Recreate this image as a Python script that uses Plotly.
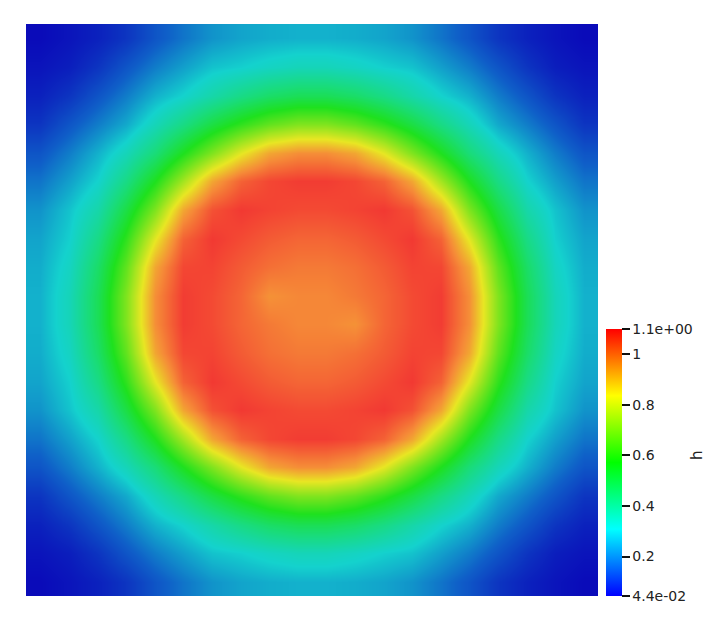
import plotly.graph_objects as go

h_rows = [
    [0.045, 0.06, 0.08, 0.11, 0.16, 0.20, 0.236, 0.255, 0.265, 0.27, 0.27, 0.265, 0.255, 0.236, 0.20, 0.16, 0.11, 0.08, 0.06, 0.045],
    [0.06, 0.075, 0.11, 0.16, 0.21, 0.25, 0.29, 0.305, 0.325, 0.34, 0.34, 0.325, 0.305, 0.29, 0.25, 0.21, 0.16, 0.11, 0.075, 0.06],
    [0.08, 0.11, 0.16, 0.21, 0.27, 0.31, 0.365, 0.42, 0.465, 0.49, 0.49, 0.465, 0.42, 0.365, 0.31, 0.27, 0.21, 0.16, 0.11, 0.08],
    [0.11, 0.16, 0.21, 0.26, 0.34, 0.42, 0.515, 0.595, 0.66, 0.70, 0.70, 0.66, 0.595, 0.515, 0.42, 0.34, 0.26, 0.21, 0.16, 0.11],
    [0.16, 0.21, 0.27, 0.34, 0.44, 0.57, 0.70, 0.83, 0.93, 0.965, 0.965, 0.93, 0.83, 0.70, 0.57, 0.44, 0.34, 0.27, 0.21, 0.16],
    [0.20, 0.25, 0.31, 0.42, 0.57, 0.745, 0.93, 1.03, 1.07, 1.085, 1.085, 1.07, 1.03, 0.93, 0.745, 0.57, 0.42, 0.31, 0.25, 0.20],
    [0.236, 0.29, 0.365, 0.515, 0.70, 0.93, 1.055, 1.09, 1.075, 1.065, 1.065, 1.075, 1.09, 1.055, 0.93, 0.70, 0.515, 0.365, 0.29, 0.236],
    [0.255, 0.305, 0.42, 0.595, 0.83, 1.03, 1.09, 1.065, 1.04, 1.025, 1.025, 1.04, 1.065, 1.09, 1.03, 0.83, 0.595, 0.42, 0.305, 0.255],
    [0.265, 0.325, 0.465, 0.66, 0.93, 1.07, 1.075, 1.04, 1.01, 0.995, 0.995, 1.01, 1.04, 1.075, 1.07, 0.93, 0.66, 0.465, 0.325, 0.265],
    [0.27, 0.34, 0.49, 0.70, 0.965, 1.085, 1.065, 1.025, 0.96, 0.975, 0.975, 0.995, 1.025, 1.065, 1.085, 0.965, 0.70, 0.49, 0.34, 0.27],
    [0.27, 0.34, 0.49, 0.70, 0.965, 1.085, 1.065, 1.025, 0.995, 0.975, 0.975, 0.96, 1.025, 1.065, 1.085, 0.965, 0.70, 0.49, 0.34, 0.27],
    [0.265, 0.325, 0.465, 0.66, 0.93, 1.07, 1.075, 1.04, 1.01, 0.995, 0.995, 1.01, 1.04, 1.075, 1.07, 0.93, 0.66, 0.465, 0.325, 0.265],
    [0.255, 0.305, 0.42, 0.595, 0.83, 1.03, 1.09, 1.065, 1.04, 1.025, 1.025, 1.04, 1.065, 1.09, 1.03, 0.83, 0.595, 0.42, 0.305, 0.255],
    [0.236, 0.29, 0.365, 0.515, 0.70, 0.93, 1.055, 1.09, 1.075, 1.065, 1.065, 1.075, 1.09, 1.055, 0.93, 0.70, 0.515, 0.365, 0.29, 0.236],
    [0.20, 0.25, 0.31, 0.42, 0.57, 0.745, 0.93, 1.03, 1.07, 1.085, 1.085, 1.07, 1.03, 0.93, 0.745, 0.57, 0.42, 0.31, 0.25, 0.20],
    [0.16, 0.21, 0.27, 0.34, 0.44, 0.57, 0.70, 0.83, 0.93, 0.965, 0.965, 0.93, 0.83, 0.70, 0.57, 0.44, 0.34, 0.27, 0.21, 0.16],
    [0.11, 0.16, 0.21, 0.26, 0.34, 0.42, 0.515, 0.595, 0.66, 0.70, 0.70, 0.66, 0.595, 0.515, 0.42, 0.34, 0.26, 0.21, 0.16, 0.11],
    [0.08, 0.11, 0.16, 0.21, 0.27, 0.31, 0.365, 0.42, 0.465, 0.49, 0.49, 0.465, 0.42, 0.365, 0.31, 0.27, 0.21, 0.16, 0.11, 0.08],
    [0.06, 0.075, 0.11, 0.16, 0.21, 0.25, 0.29, 0.305, 0.325, 0.34, 0.34, 0.325, 0.305, 0.29, 0.25, 0.21, 0.16, 0.11, 0.075, 0.06],
    [0.045, 0.06, 0.08, 0.11, 0.16, 0.20, 0.236, 0.255, 0.265, 0.27, 0.27, 0.265, 0.255, 0.236, 0.20, 0.16, 0.11, 0.08, 0.06, 0.045],
]
x_centers = [i + 0.5 for i in range(20)]
y_centers = [i + 0.5 for i in range(20)]

h_min = 0.044
h_max = 1.1
tick_vals = [0.044, 0.2, 0.4, 0.6, 0.8, 1.0, 1.1]
tick_text = ["4.4e-02", "0.2", "0.4", "0.6", "0.8", "1", "1.1e+00"]
bar_title = "h"

# colours as rendered (lit surface) in the plot area
lit_scale = [
    [0.0, "rgb(10,10,185)"],
    [0.125, "rgb(15,95,200)"],
    [0.25, "rgb(20,210,205)"],
    [0.375, "rgb(25,220,120)"],
    [0.5, "rgb(30,225,30)"],
    [0.625, "rgb(130,228,30)"],
    [0.75, "rgb(232,230,35)"],
    [0.875, "rgb(245,140,55)"],
    [1.0, "rgb(242,50,50)"],
]
# pure rainbow used by the colour legend
bar_scale = [
    [0.0, "rgb(0,0,255)"],
    [0.25, "rgb(0,255,255)"],
    [0.5, "rgb(0,255,0)"],
    [0.75, "rgb(255,255,0)"],
    [1.0, "rgb(255,0,0)"],
]

W, H = 723, 624
L, R, T, B = 26, 125, 24, 28
pw = W - L - R
ph = H - T - B

fig = go.Figure()
fig.add_trace(go.Heatmap(
    z=h_rows, x=x_centers, y=y_centers,
    zmin=h_min, zmax=h_max, colorscale=lit_scale,
    zsmooth="best", showscale=False, hoverinfo="skip",
))
fig.add_trace(go.Scatter(
    x=[x_centers[0]], y=[y_centers[0]], mode="markers",
    marker=dict(
        size=0.1, opacity=0, color=[h_min], cmin=h_min, cmax=h_max,
        colorscale=bar_scale, showscale=True,
        colorbar=dict(
            x=(606 - L) / pw, xanchor="left", xref="paper",
            y=0, yanchor="bottom", yref="paper",
            len=267, lenmode="pixels", thickness=16, thicknessmode="pixels",
            xpad=0, ypad=0, outlinewidth=0,
            tickmode="array", tickvals=tick_vals, ticktext=tick_text,
            ticks="outside", ticklen=8, tickwidth=1.5, tickcolor="#111",
            tickfont=dict(family="DejaVu Sans", size=14, color="#222"),
        ),
    ),
    hoverinfo="skip", showlegend=False,
))
fig.add_annotation(
    x=(708 - L) / pw, y=(H - B - 462) / ph, xref="paper", yref="paper",
    text=bar_title, textangle=-90, showarrow=False,
    font=dict(family="DejaVu Sans", size=15, color="#222"),
)
fig.update_xaxes(range=[0, 20], visible=False, showgrid=False, zeroline=False)
fig.update_yaxes(range=[20, 0], visible=False, showgrid=False, zeroline=False)
fig.update_layout(
    width=W, height=H,
    margin=dict(l=L, r=R, t=T, b=B),
    paper_bgcolor="white", plot_bgcolor="white",
    showlegend=False,
)
fig.write_html("out.html")
